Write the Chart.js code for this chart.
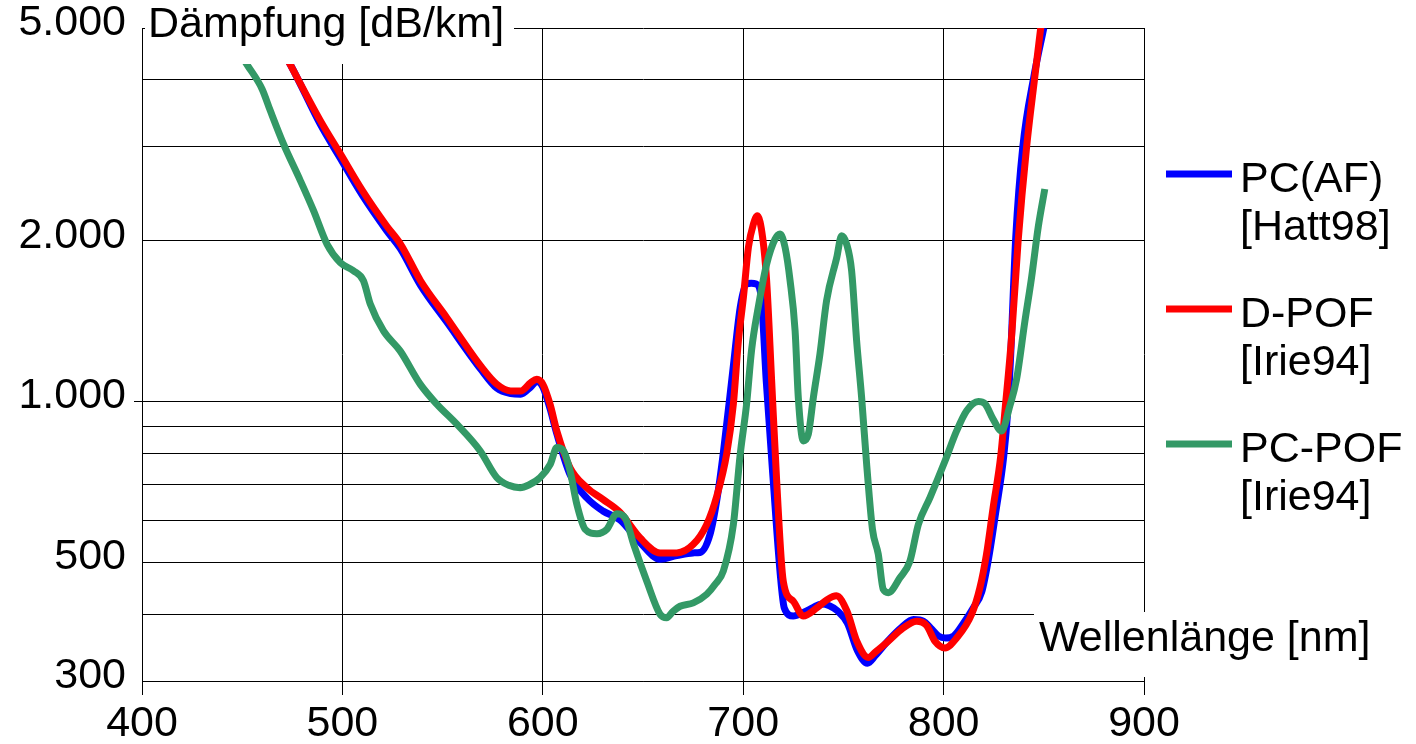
<!DOCTYPE html>
<html>
<head>
<meta charset="utf-8">
<title>Dämpfung</title>
<script src="https://cdn.jsdelivr.net/npm/chart.js@4/dist/chart.umd.min.js"></script>
<style>
  html, body { margin: 0; padding: 0; background: #fff; }
  #wrap { position: relative; width: 1416px; height: 744px; }
</style>
</head>
<body>
<div id="wrap"><canvas id="chart"></canvas></div>
<script>
const xTicks = [400, 500, 600, 700, 800, 900];
const yTicks = [300, 400, 500, 600, 700, 800, 900, 1000, 2000, 3000, 4000, 5000];
const yLabelled = [300, 500, 1000, 2000, 5000];

const yTitle = 'Dämpfung [dB/km]';
const xTitle = 'Wellenlänge [nm]';
const seriesNames = [['PC(AF)', '[Hatt98]'], ['D-POF', '[Irie94]'], ['PC-POF', '[Irie94]']];

// PC(AF) [Hatt98]
const pcafNm = [463, 474, 489, 499, 510, 522, 529, 539, 552, 569,
  577, 584, 589, 594, 597, 600, 603.6, 607, 613.6, 622,
  630, 638.6, 648.5, 658.5, 666.8, 675, 678.5, 683.5, 687, 690,
  695, 698.5, 701.5, 704, 706.5, 709, 711.5, 715, 718.5, 720.5,
  725, 730, 735, 739, 743, 747, 752, 757, 762, 766,
  772, 779, 785, 790, 793.5, 797.5, 801, 805, 810, 815,
  819, 822.5, 826, 830, 832, 833.5, 836, 839.5, 845, 850];
const pcafDb = [5000, 4272, 3300, 2850, 2430, 2090, 1930, 1650, 1410, 1150,
  1060, 1035, 1032, 1065, 1090, 1065, 970, 870, 730, 660,
  624, 600, 545, 507, 515, 521, 522, 565, 660, 797,
  1158, 1500, 1659, 1665, 1659, 1566, 1093, 710, 475, 411,
  397, 403, 412, 418, 415, 406, 385, 342, 324, 335,
  356, 378, 391, 388, 377, 364, 361, 364, 385, 412,
  440, 510, 620, 790, 960, 1227, 2029, 2990, 4045, 5000];

// D-POF [Irie94]
const dpofNm = [465, 474, 489, 499, 510, 522, 529, 539, 552, 569,
  577, 584, 589, 594, 597, 600, 603.6, 607, 613.6, 622,
  630, 638.6, 648.5, 658.5, 666.8, 675, 681.8, 686.8, 691.8, 695.1,
  697.6, 700.1, 702.6, 705.1, 707.1, 709.7, 711.7, 714.2, 716.7, 720,
  725, 730, 736.7, 741.5, 746.5, 751.7, 756.7, 762.4, 766, 771.6,
  779.9, 786.5, 791.5, 795.7, 800.7, 806.5, 814, 818.1, 821.4, 824.7,
  828.5, 830.6, 833.9, 837.2, 841.4, 845.5, 848.5];
const dpofDb = [4950, 4272, 3355, 2907, 2481, 2133, 1971, 1683, 1437, 1166,
  1078, 1047, 1047, 1085, 1101, 1078, 989, 881, 752, 690,
  656, 620, 556, 521, 521, 540, 589, 665, 800, 990,
  1299, 1566, 1943, 2149, 2227, 2028, 1683, 1093, 710, 461,
  423, 397, 411, 425, 433, 406, 356, 332, 340, 354,
  377, 388, 381, 356, 346, 361, 400, 448, 518, 633,
  790, 960, 1318, 2000, 2990, 4045, 5015];

// PC-POF [Irie94]
const pcpofNm = [441, 452.4, 459.9, 464, 470.6, 479, 485.6, 492.3, 498.9, 505.5,
  510.5, 513.9, 520.5, 528.8, 538.8, 547.1, 557.1, 568.7, 577, 583,
  588.7, 593, 598.7, 603.7, 607, 610.3, 613.6, 617, 621.1, 627,
  632, 637, 641.1, 645.3, 651.9, 658.5, 661.8, 665, 668.5, 675.1,
  681.8, 686, 690.1, 695.1, 698.4, 701.7, 704.2, 707.5, 711.7, 715.9,
  718.4, 720.9, 723.4, 725.9, 727.5, 730, 732.5, 735, 738.3, 741.6,
  746.7, 749.1, 751.6, 754.1, 756.6, 759.1, 761.6, 764.5, 767.4, 769.9,
  772.4, 778.2, 783.2, 787.4, 793.2, 800.7, 806.5, 811.5, 817.3, 820.6,
  824.7, 828.9, 833, 836.4, 840.6, 843.9, 847.2, 850.5];
const pcpofDb = [5000, 4272, 3846, 3503, 3034, 2591, 2276, 1971, 1821, 1757,
  1683, 1522, 1356, 1244, 1078, 989, 907, 809, 721, 697,
  690, 698, 721, 763, 820, 809, 742, 642, 577, 566,
  577, 617, 606, 541, 461, 400, 394, 405, 414, 420,
  436, 455, 482, 589, 790, 990, 1250, 1500, 1808, 2014,
  2058, 1943, 1683, 1356, 1017, 844, 869, 1017, 1227, 1544,
  1861, 2043, 1971, 1757, 1300, 1017, 763, 577, 518, 445,
  439, 468, 503, 589, 661, 774, 881, 961, 1000, 991,
  927, 881, 980, 1100, 1416, 1707, 2118, 2499];

const FONT_FAMILY = "'Liberation Sans', Arial, sans-serif";
const FONT_SIZE = 43;

function toPoints(xs, ys) {
  return xs.map((x, i) => ({ x: x, y: ys[i] }));
}

function formatDe(v) {
  return String(v).replace(/\B(?=(\d{3})+(?!\d))/g, '.');
}

// axis titles on white boxes plus a two-line legend on the right
const overlay = {
  id: 'overlay',
  afterDraw(chart) {
    const ctx = chart.ctx;
    const a = chart.chartArea;
    ctx.save();
    ctx.font = FONT_SIZE + 'px ' + FONT_FAMILY;
    ctx.textBaseline = 'middle';
    ctx.textAlign = 'left';

    ctx.fillStyle = '#fff';
    ctx.fillRect(a.left + 3, 0, 369, a.top + 36);
    ctx.fillRect(a.right - 110, a.bottom - 69, 350, 65);
    ctx.fillStyle = '#000';
    ctx.fillText(yTitle, a.left + 6, a.top - 3);
    ctx.fillText(xTitle, a.right - 105, a.bottom - 42);

    chart.data.datasets.forEach((ds, i) => {
      const y = a.top + 152 + i * 135;
      ctx.strokeStyle = ds.borderColor;
      ctx.lineWidth = 7;
      ctx.beginPath();
      ctx.moveTo(a.right + 22, y - 6);
      ctx.lineTo(a.right + 88, y - 6);
      ctx.stroke();
      ctx.fillStyle = '#000';
      seriesNames[i].forEach((t, j) => ctx.fillText(t, a.right + 96, y + j * 48));
    });
    ctx.restore();
  }
};

function plotDaempfung(ctx) {
  const blue = '#0000ff';
  const red = '#ff0000';
  const green = '#339966';
  const font = { family: FONT_FAMILY, size: FONT_SIZE };

  new Chart(ctx, {
    type: 'line',
    data: {
      datasets: [
        { label: seriesNames[0].join(' '), data: toPoints(pcafNm, pcafDb), borderColor: blue, order: 3 },
        { label: seriesNames[1].join(' '), data: toPoints(dpofNm, dpofDb), borderColor: red, order: 2 },
        { label: seriesNames[2].join(' '), data: toPoints(pcpofNm, pcpofDb), borderColor: green, order: 1 }
      ]
    },
    options: {
      responsive: true,
      maintainAspectRatio: false,
      animation: false,
      events: [],
      devicePixelRatio: 1,
      layout: { padding: { top: 28, right: 272, bottom: 0, left: 0 } },
      elements: {
        point: { radius: 0 },
        line: { borderWidth: 7, fill: false, cubicInterpolationMode: 'monotone', borderJoinStyle: 'round' }
      },
      plugins: {
        legend: { display: false },
        tooltip: { enabled: false }
      },
      scales: {
        x: {
          type: 'linear',
          min: 400,
          max: 900,
          afterBuildTicks: (scale) => { scale.ticks = xTicks.map(v => ({ value: v })); },
          afterFit: (scale) => { scale.height = 63; },
          ticks: { color: '#000', font: font, padding: 3, maxRotation: 0, autoSkip: false, callback: v => String(v) },
          grid: { color: '#000', lineWidth: 1, tickLength: 14, tickColor: '#000' },
          border: { color: '#000', width: 1 }
        },
        y: {
          type: 'logarithmic',
          min: 300,
          max: 5000,
          afterBuildTicks: (scale) => { scale.ticks = yTicks.map(v => ({ value: v })); },
          afterFit: (scale) => {
            scale.width = 142;
            scale.paddingTop = 0;
            scale.paddingBottom = 0;
          },
          ticks: {
            color: '#000',
            font: font,
            padding: 8,
            labelOffset: -5,
            autoSkip: false,
            callback: v => yLabelled.includes(v) ? formatDe(v) : ''
          },
          grid: {
            color: '#000',
            lineWidth: 1,
            tickLength: 8,
            tickColor: (c) => (c.tick && c.tick.value === 1000) ? '#000' : 'rgba(0,0,0,0)'
          },
          border: { color: '#000', width: 1 }
        }
      }
    },
    plugins: [overlay]
  });
}

plotDaempfung(document.getElementById('chart'));
</script>
</body>
</html>
